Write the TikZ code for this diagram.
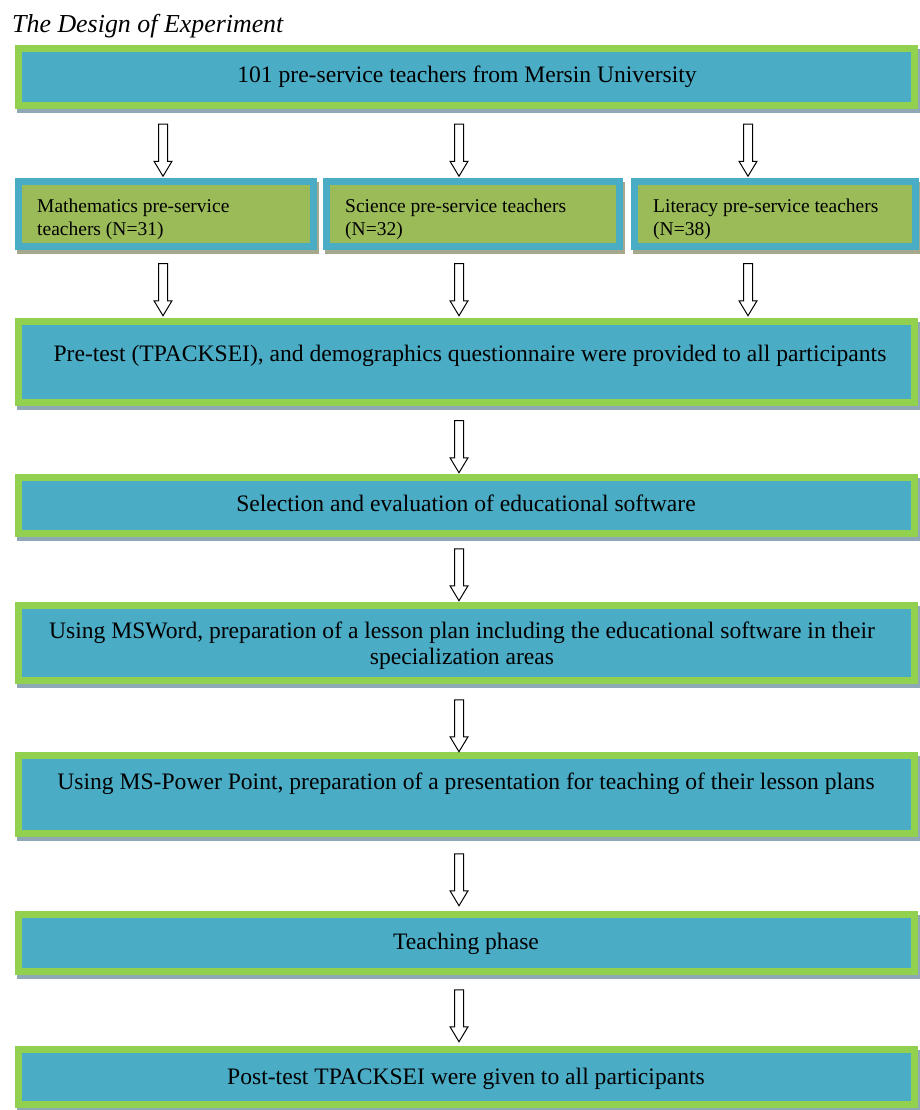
\documentclass[tikz,border=0pt]{standalone}
\usepackage{fontspec}
\setmainfont{Liberation Serif}
\usetikzlibrary{shapes.arrows}
\definecolor{boxblue}{HTML}{4BACC6}
\definecolor{boxgreen}{HTML}{92D050}
\definecolor{boxolive}{HTML}{9BBB59}
\definecolor{shadeblue}{RGB}{142,169,181}
\definecolor{shadeolive}{RGB}{165,168,140}
\begin{document}
\begin{tikzpicture}[x=1pt,y=-1pt,
  mainbox/.style={rectangle, draw=boxgreen, fill=boxblue, line width=7pt, inner sep=0pt,
    minimum width=896pt,
    preaction={draw=shadeblue, fill=shadeblue, transform canvas={shift={(2pt,-4pt)}}}},
  groupbox/.style={rectangle, draw=boxblue, fill=boxolive, line width=7pt, inner sep=0pt,
    minimum height=65pt,
    preaction={draw=shadeolive, fill=shadeolive, transform canvas={shift={(2pt,-4pt)}}}},
  maintext/.style={anchor=base, font=\fontsize{23.6}{26}\selectfont, inner sep=0pt, align=center},
  grouptext/.style={anchor=base west, font=\fontsize{19.5}{23}\selectfont, inner sep=0pt, align=left},
  downarrow/.style={single arrow, draw=black, fill=white, line width=1pt, shape border rotate=270,
    inner sep=4pt, single arrow head extend=4.5pt, single arrow tip angle=62, minimum height=52pt}
]
\useasboundingbox (0,0) rectangle (920,1110);

\node[anchor=base west, inner sep=0pt, font=\fontsize{25.9}{30}\selectfont\itshape] (title) at (12,33) {The Design of Experiment};

% boxes
\node[mainbox, minimum height=57pt] (b1) at (466.5,77) {};
\node[groupbox, minimum width=295pt] (gm) at (166,214) {};
\node[groupbox, minimum width=293pt] (gs) at (473,214) {};
\node[groupbox, minimum width=281pt] (gl) at (775,214) {};
\node[mainbox, minimum height=81pt] (b3) at (466.5,362) {};
\node[mainbox, minimum height=56pt] (b4) at (466.5,505.5) {};
\node[mainbox, minimum height=75pt] (b5) at (466.5,643) {};
\node[mainbox, minimum height=78pt] (b6) at (466.5,794.5) {};
\node[mainbox, minimum height=57pt] (b7) at (466.5,943) {};
\node[mainbox, minimum height=55pt] (b8) at (466.5,1077) {};

% texts
\node[maintext] (t1) at (467,83) {101 pre-service teachers from Mersin University};
\node[grouptext] (tm) at (37,235) {Mathematics pre-service\\teachers (N=31)};
\node[grouptext] (ts) at (345,235) {Science pre-service teachers\\(N=32)};
\node[grouptext] (tl) at (653,235) {Literacy pre-service teachers\\(N=38)};
\node[maintext] (t3) at (470,361) {Pre-test (TPACKSEI), and demographics questionnaire were provided to all participants};
\node[maintext] (t4) at (466,511) {Selection and evaluation of educational software};
\node[maintext] (t5) at (462,664) {Using MSWord, preparation of a lesson plan including the educational software in their\\specialization areas};
\node[maintext] (t6) at (466,789) {Using MS-Power Point, preparation of a presentation for teaching of their lesson plans};
\node[maintext] (t7) at (466,949) {Teaching phase};
\node[maintext] (t8) at (466,1084) {Post-test TPACKSEI were given to all participants};

% arrows
\node[downarrow] (a1) at (163,146.5) {};
\node[downarrow] (a2) at (459,146.5) {};
\node[downarrow] (a3) at (748,146.5) {};
\node[downarrow] (a4) at (163,286) {};
\node[downarrow] (a5) at (459,286) {};
\node[downarrow] (a6) at (748,286) {};
\node[downarrow] (a7) at (459,443) {};
\node[downarrow] (a8) at (459,571) {};
\node[downarrow] (a9) at (459,722) {};
\node[downarrow] (a10) at (459,876) {};
\node[downarrow] (a11) at (459,1012) {};
\end{tikzpicture}
\end{document}
